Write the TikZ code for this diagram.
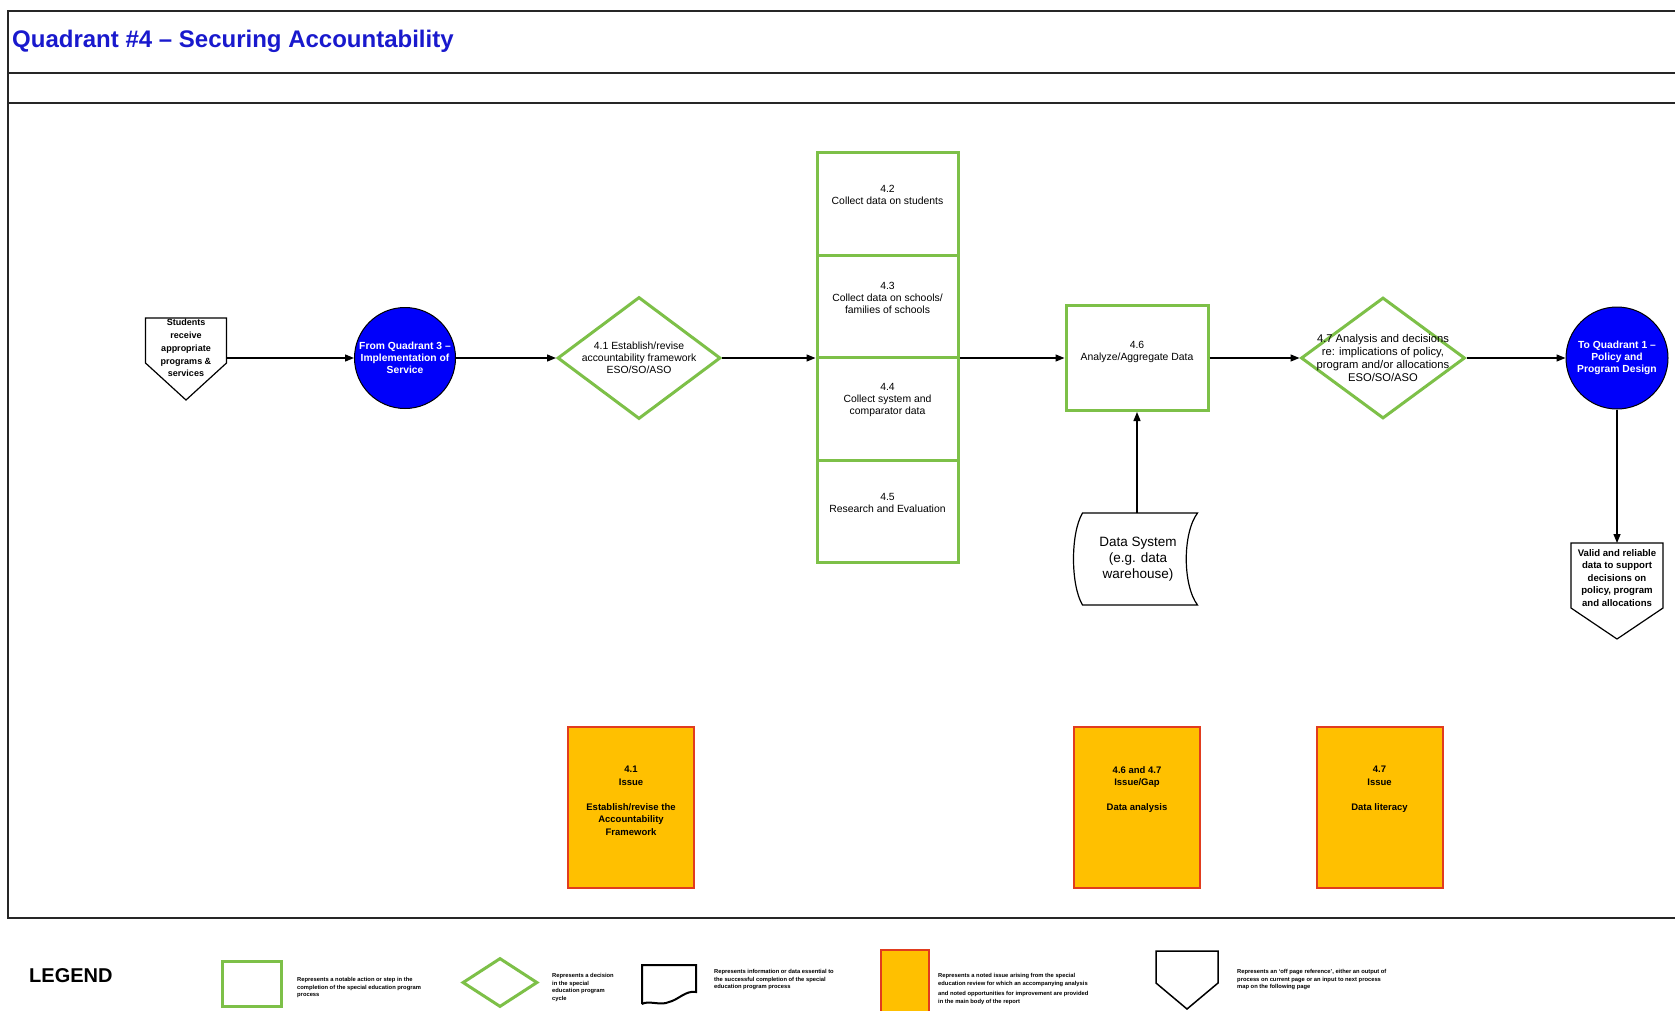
\documentclass[tikz,border=0pt]{standalone}
\usepackage{fontspec}
\setmainfont{Liberation Sans}
\usetikzlibrary{arrows.meta,shapes.geometric,calc}

\definecolor{stepgreen}{RGB}{125,192,72}
\definecolor{issuefill}{RGB}{255,192,0}
\definecolor{issueedge}{RGB}{225,60,30}
\definecolor{qblue}{RGB}{0,0,250}
\definecolor{titleblue}{RGB}{25,25,205}

\begin{document}
\begin{tikzpicture}[x=1pt,y=-1pt,
  frame/.style={line width=1.8pt, draw=black!85},
  stepbox/.style={draw=stepgreen, line width=3pt, fill=white, minimum width=141pt, minimum height=102.5pt, inner sep=0pt},
  decision/.style={diamond, draw=stepgreen, line width=3pt, fill=white, inner sep=0pt},
  quad/.style={circle, draw=black, line width=1pt, fill=qblue, inner sep=0pt, minimum size=101pt},
  quadtext/.style={text=white, font=\fontsize{10.3}{12}\selectfont\bfseries, align=center, inner sep=0pt},
  steptext/.style={font=\fontsize{10.4}{12}\selectfont, align=center, inner sep=0pt},
  issue/.style={draw=issueedge, line width=2pt, fill=issuefill, minimum width=126pt, minimum height=161pt, inner sep=0pt},
  issuetext/.style={font=\fontsize{9.5}{12.5}\selectfont\bfseries, align=center, inner sep=0pt, anchor=north},
  offpage/.style={draw=black, line width=1.2pt, fill=white},
  pagetext/.style={font=\fontsize{9.3}{12.8}\selectfont\bfseries, align=center, inner sep=0pt},
  arr/.style={draw=black, line width=1.3pt, -{Triangle[length=9pt,width=7pt]}},
  legtext/.style={font=\fontsize{5.8}{7.6}\selectfont\bfseries, align=left, anchor=north west, inner sep=0pt},
  blank/.style={inner sep=0pt, outer sep=0pt},
]
\useasboundingbox (0,0) rectangle (1675,1010);
\fill[white] (0,0) rectangle (1675,1010);
\clip (0,0) rectangle (1675,1010);

% page frame and header rows
\draw[frame] (1690,11) -- (8,11) -- (8,918) -- (1690,918);
\draw[frame] (8,73) -- (1690,73);
\draw[frame] (8,103) -- (1690,103);
\node[anchor=base west, inner sep=0pt, text=titleblue, font=\fontsize{24}{28}\selectfont\bfseries] (title) at (12,47) {Quadrant \#4 – Securing Accountability};

% incoming off-page reference
\node[blank, minimum width=81pt, minimum height=45pt] (stu) at (186,340.5) {};
\draw[offpage] (stu.north west) -- (stu.north east) -- (stu.south east) -- ($(stu.south)+(0,37)$) -- (stu.south west) -- cycle;
\node[pagetext, font=\fontsize{9}{12.8}\selectfont\bfseries] (tstu) at (186,348) {Students\\receive\\appropriate\\programs \&\\services};

% quadrant connectors
\node[quad] (c1) at (405,358) {};
\node[quadtext] (tc1) at (c1.center) {From Quadrant 3 –\\Implementation of\\Service};
\node[quad, minimum size=102pt] (c2) at (1617,358) {};
\node[quadtext] (tc2) at (c2.center) {To Quadrant 1 –\\Policy and\\Program Design};

% decision 4.1
\node[decision, minimum width=163pt, minimum height=122pt] (d41) at (639,358) {};
\node[steptext] (td41) at (d41.center) {4.1 Establish/revise\\accountability framework\\ESO/SO/ASO};

% data collection stack
\node[stepbox] (b42) at (887.5,204) {};
\node[stepbox] (b43) at (887.5,306.5) {};
\node[stepbox] (b44) at (887.5,409) {};
\node[stepbox] (b45) at (887.5,511.5) {};
\node[steptext] (tb42) at ($(b42.center)+(0,-9)$) {4.2\\Collect data on students};
\node[steptext] (tb43) at ($(b43.center)+(0,-9)$) {4.3\\Collect data on schools/\\families of schools};
\node[steptext] (tb44) at ($(b44.center)+(0,-9)$) {4.4\\Collect system and\\comparator data};
\node[steptext] (tb45) at ($(b45.center)+(0,-9)$) {4.5\\Research and Evaluation};

% analysis step
\node[stepbox, minimum width=142pt, minimum height=105pt] (b46) at (1137,358) {};
\node[steptext] (tb46) at ($(b46.center)+(0,-6)$) {4.6\\Analyze/Aggregate Data};

% decision 4.7
\node[decision, minimum width=164pt, minimum height=121pt] (d47) at (1383,358) {};
\node[steptext, font=\fontsize{11.2}{12.8}\selectfont] (td47) at (d47.center) {4.7 Analysis and decisions\\re: implications of policy,\\program and/or allocations\\ESO/SO/ASO};

% stored data
\node[blank, minimum width=115pt, minimum height=92pt] (ds) at (1140,559) {};
\draw[black, line width=1.2pt, fill=white]
  (ds.north west) -- (ds.north east)
  .. controls ($(ds.north east)+(-15,20)$) and ($(ds.south east)+(-15,-20)$) .. (ds.south east)
  -- (ds.south west)
  .. controls ($(ds.south west)+(-12,-20)$) and ($(ds.north west)+(-12,20)$) .. (ds.north west) -- cycle;
\node[steptext, font=\fontsize{13.5}{16}\selectfont] (tds) at ($(ds.center)+(-2,0)$) {Data System\\(e.g. data\\warehouse)};

% outgoing off-page reference
\node[blank, minimum width=92pt, minimum height=65pt] (val) at (1617,575.5) {};
\draw[offpage] (val.north west) -- (val.north east) -- (val.south east) -- ($(val.south)+(0,31)$) -- (val.south west) -- cycle;
\node[pagetext, font=\fontsize{9.6}{12.5}\selectfont\bfseries] (tval) at (1617,578) {Valid and reliable\\data to support\\decisions on\\policy, program\\and allocations};

% flow
\draw[arr] (stu.east |- c1.west) -- (c1.west);
\draw[arr] (c1.east) -- (d41.west);
\draw[arr] (d41.east) -- (d41.east -| b43.west);
\draw[arr] (b46.west -| b43.east) -- (b46.west);
\draw[arr] (b46.east) -- (d47.west);
\draw[arr] (d47.east) -- (c2.west);
\draw[arr] (c2.south) -- (val.north);
\draw[arr] (ds.north -| b46.south) -- (b46.south);

% issues
\node[issue] (i41) at (631,807.5) {};
\node[issue] (i467) at (1137,807.5) {};
\node[issue] (i47) at (1379.5,807.5) {};
\node[issuetext] (ti41) at ($(i41.north)+(0,40)$) {4.1\\Issue\\[12.5pt]Establish/revise the\\Accountability\\Framework};
\node[issuetext] (ti467) at ($(i467.north)+(0,40)$) {4.6 and 4.7\\Issue/Gap\\[12.5pt]Data analysis};
\node[issuetext] (ti47) at ($(i47.north)+(0,40)$) {4.7\\Issue\\[12.5pt]Data literacy};

% legend
\node[anchor=west, inner sep=0pt, font=\fontsize{20}{24}\selectfont\bfseries] (leg) at (29,976) {LEGEND};
\node[stepbox, minimum width=59pt, minimum height=45pt] (lsq) at (251.5,983.5) {};
\node[legtext] (lt1) at (297,977) {Represents a notable action or step in the\\completion of the special education program\\process};
\node[decision, minimum width=75pt, minimum height=49pt] (ldi) at (500,982.5) {};
\node[legtext] (lt2) at (552,973) {Represents a decision\\in the special\\education program\\cycle};
\node[blank, minimum width=54pt, minimum height=39pt] (ldoc) at (669,984.5) {};
\draw[black, line width=2pt] (ldoc.south west) -- (ldoc.north west) -- (ldoc.north east) -- ($(ldoc.north east)+(0,27)$)
  .. controls ($(ldoc.north east)+(-10,25)$) and ($(ldoc.north east)+(-18,35)$) .. ($(ldoc.south)+(0,-2)$)
  .. controls ($(ldoc.south)+(-8,2)$) and ($(ldoc.south west)+(6,-4)$) .. (ldoc.south west);
\node[legtext] (lt3) at (714,969) {Represents information or data essential to\\the successful completion of the special\\education program process};
\node[issue, minimum width=48pt, minimum height=70pt] (liss) at (905,985) {};
\node[legtext] (lt4) at (938,973) {Represents a noted issue arising from the special\\education review for which an accompanying analysis\\[3pt]and noted opportunities for improvement are provided\\in the main body of the report};
\node[blank, minimum width=62pt, minimum height=32pt] (loff) at (1187,967) {};
\draw[black, line width=1.5pt] (loff.north west) -- (loff.north east) -- (loff.south east) -- ($(loff.south)+(0,26)$) -- (loff.south west) -- cycle;
\node[legtext] (lt5) at (1237,969) {Represents an `off page reference', either an output of\\process on current page or an input to next process\\map on the following page};
\end{tikzpicture}
\end{document}
